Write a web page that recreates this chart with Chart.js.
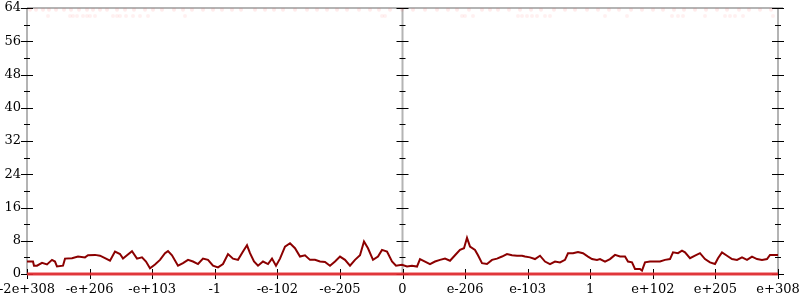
<!DOCTYPE html>
<html>
<head>
<meta charset="utf-8">
<script src="https://cdn.jsdelivr.net/npm/chart.js@4/dist/chart.umd.min.js"></script>
<style>
  html, body { margin: 0; padding: 0; background: #fff; }
  #wrap { width: 800px; height: 300px; }
</style>
</head>
<body>
<div id="wrap"><canvas id="chart"></canvas></div>
<script>
// x runs 0..751 across the plot, 12 equal intervals between labelled ticks
const X_MAX = 751;
const xLabels = ["-2e+308", "-e+206", "-e+103", "-1", "-e-102", "-e-205", "0",
                 "e-206", "e-103", "1", "e+102", "e+205", "e+308"];
const yTicks = [0, 8, 16, 24, 32, 40, 48, 56, 64];

// dark red series
const lineX = [0, 6, 7, 10, 15, 20, 25, 28, 30, 36, 38, 45, 51, 58, 61, 68, 73, 78, 83, 88,
  93, 96, 100, 105, 110, 115, 119, 123, 128, 133, 138, 141, 145, 151, 156, 161, 166, 171, 176, 181,
  186, 191, 196, 201, 206, 211, 216, 220, 223, 227, 231, 236, 241, 245, 249, 253, 258, 263, 268, 273,
  278, 283, 288, 293, 298, 303, 308, 313, 318, 323, 328, 333, 337, 341, 346, 351, 355, 360, 365, 369,
  375, 380, 385, 390, 393, 398, 403, 408, 413, 418, 423, 428, 433, 437, 440, 443, 448, 451, 455, 460,
  465, 470, 475, 480, 485, 490, 495, 498, 503, 508, 513, 518, 523, 528, 533, 538, 541, 546, 551, 556,
  561, 565, 570, 573, 578, 583, 588, 593, 598, 601, 605, 608, 613, 615, 618, 623, 628, 633, 638, 643,
  646, 651, 655, 658, 663, 668, 673, 678, 683, 688, 691, 695, 700, 705, 710, 715, 720, 725, 730, 735,
  740, 743, 751];
const lineY = [3.0, 3.0, 2.0, 2.0, 2.7, 2.3, 3.4, 3.0, 1.8, 2.0, 3.7, 3.8, 4.2, 4.0, 4.5, 4.6, 4.4, 3.8, 3.2, 5.4,
  4.8, 3.7, 4.5, 5.5, 3.7, 4.0, 3.0, 1.4, 2.3, 3.4, 5.0, 5.5, 4.5, 2.0, 2.6, 3.4, 3.0, 2.4, 3.7, 3.4,
  2.0, 1.6, 2.4, 4.8, 3.7, 3.4, 5.4, 6.9, 5.0, 3.0, 2.0, 3.0, 2.4, 3.7, 2.0, 3.7, 6.6, 7.4, 6.2, 4.2,
  4.5, 3.4, 3.4, 3.0, 2.9, 2.0, 3.0, 4.2, 3.4, 2.0, 3.4, 4.5, 7.8, 6.2, 3.4, 4.2, 5.8, 5.4, 3.0, 2.0,
  2.2, 1.8, 2.0, 1.8, 3.6, 3.0, 2.4, 3.0, 3.4, 3.7, 3.2, 4.5, 5.8, 6.2, 8.7, 6.6, 5.8, 4.5, 2.6, 2.4,
  3.4, 3.7, 4.2, 4.8, 4.5, 4.4, 4.4, 4.2, 4.0, 3.6, 4.4, 3.0, 2.4, 3.0, 2.8, 3.4, 5.0, 5.0, 5.3, 5.0,
  4.2, 3.6, 3.4, 3.6, 3.0, 3.6, 4.6, 4.2, 4.2, 3.0, 2.8, 1.2, 1.2, 0.8, 2.8, 3.0, 3.0, 3.0, 3.4, 3.6,
  5.2, 5.0, 5.6, 5.2, 3.8, 4.4, 5.0, 3.6, 2.8, 2.4, 3.8, 5.2, 4.4, 3.6, 3.4, 4.0, 3.4, 4.2, 3.6, 3.4,
  3.6, 4.6, 4.6];

// bright red baseline at zero
const baseX = [0, 751];
const baseY = [0, 0];

// faint pink specks along the top
const speckTopX = [3, 9, 16, 22, 29, 37, 44, 52, 60, 66, 73, 80, 90, 98, 107, 118, 126, 135, 147, 156,
  165, 176, 186, 195, 205, 214, 228, 238, 247, 256, 268, 280, 290, 300, 310, 320, 332, 343, 352, 363,
  375, 386, 398, 410, 421, 430, 442, 455, 463, 471, 482, 493, 504, 514, 527, 538, 548, 560, 571, 582,
  592, 604, 615, 626, 636, 647, 657, 668, 679, 690, 700, 712, 722, 733, 744];
const speckTopY = 63.6;
const speckLowX = [21, 43, 46, 50, 56, 60, 63, 68, 86, 90, 93, 99, 106, 113, 121, 158, 355, 358, 435, 438,
  446, 491, 495, 500, 505, 510, 518, 523, 578, 600, 645, 651, 656, 678, 698, 703, 708, 716, 746];
const speckLowY = 62.1;

const pts = (xs, ys) => xs.map((x, i) => ({ x: x, y: Array.isArray(ys) ? ys[i] : ys }));
const xTickPos = xLabels.map((_, i) => i * X_MAX / 12);

const AXIS_GRAY = "#b4b4b4";

// gnuplot-style frame: gray axis lines with ticks crossing them
const framePlugin = {
  id: "frame",
  beforeDatasetsDraw(chart) {
    const ctx = chart.ctx;
    const xs = chart.scales.x, ys = chart.scales.y;
    const top = ys.getPixelForValue(64), bot = ys.getPixelForValue(0);
    const axesX = [xs.getPixelForValue(0), xs.getPixelForValue(X_MAX / 2), xs.getPixelForValue(X_MAX)];
    ctx.save();
    ctx.strokeStyle = AXIS_GRAY;
    ctx.lineWidth = 2;
    ctx.beginPath();
    ctx.moveTo(axesX[0], top); ctx.lineTo(axesX[2] + 5, top);
    ctx.moveTo(axesX[0], bot); ctx.lineTo(axesX[2], bot);
    axesX.forEach(ax => { ctx.moveTo(ax, top); ctx.lineTo(ax, bot); });
    ctx.stroke();

    ctx.strokeStyle = "#000";
    ctx.lineWidth = 1;
    ctx.beginPath();
    axesX.forEach(ax => {
      for (let v = 0; v <= 64; v += 4) {
        const y = Math.round(ys.getPixelForValue(v)) + 0.5;
        const len = v % 8 === 0 ? 6 : 3;
        ctx.moveTo(ax - len, y); ctx.lineTo(ax + len, y);
      }
    });
    xTickPos.forEach(v => {
      const x = Math.round(xs.getPixelForValue(v)) + 0.5;
      ctx.moveTo(x, bot - 5); ctx.lineTo(x, bot + 5);
    });
    ctx.stroke();
    ctx.restore();
  }
};

const tickFont = { family: "'DejaVu Serif', serif", size: 13 };

new Chart(document.getElementById("chart"), {
  type: "scatter",
  data: {
    datasets: [
      {
        data: pts(speckTopX, speckTopY),
        showLine: false,
        pointRadius: 2,
        pointBorderWidth: 0,
        pointBackgroundColor: "rgba(255, 60, 60, 0.10)"
      },
      {
        data: pts(speckLowX, speckLowY),
        showLine: false,
        pointRadius: 2,
        pointBorderWidth: 0,
        pointBackgroundColor: "rgba(255, 60, 60, 0.08)"
      },
      {
        data: pts(lineX, lineY),
        showLine: true,
        borderColor: "#8b0000",
        borderWidth: 2,
        pointRadius: 0,
        tension: 0,
        clip: 4
      },
      {
        data: pts(baseX, baseY),
        showLine: true,
        borderColor: "rgba(228, 40, 45, 0.9)",
        borderWidth: 3,
        pointRadius: 0,
        clip: 4
      }
    ]
  },
  options: {
    responsive: true,
    maintainAspectRatio: false,
    animation: false,
    layout: { padding: { top: 8, right: 22, left: 0, bottom: 0 } },
    plugins: { legend: { display: false }, tooltip: { enabled: false } },
    scales: {
      x: {
        type: "linear",
        min: 0,
        max: X_MAX,
        grid: { display: false, drawTicks: false },
        border: { display: false },
        afterBuildTicks: (scale) => { scale.ticks = xTickPos.map(v => ({ value: v })); },
        afterFit: (scale) => {
          scale.height = 26;
          scale.paddingLeft = 0;
          scale.paddingRight = 0;
        },
        ticks: {
          autoSkip: false,
          maxRotation: 0,
          padding: 8,
          color: "#000",
          font: tickFont,
          callback: (value, index) => xLabels[index]
        }
      },
      y: {
        min: 0,
        max: 64,
        grid: { display: false, drawTicks: false },
        border: { display: false },
        afterBuildTicks: (scale) => { scale.ticks = yTicks.map(v => ({ value: v })); },
        afterFit: (scale) => {
          scale.width = 27;
          scale.paddingTop = 0;
          scale.paddingBottom = 0;
        },
        ticks: {
          padding: 6,
          color: "#000",
          font: tickFont
        }
      }
    }
  },
  plugins: [framePlugin]
});
</script>
</body>
</html>
